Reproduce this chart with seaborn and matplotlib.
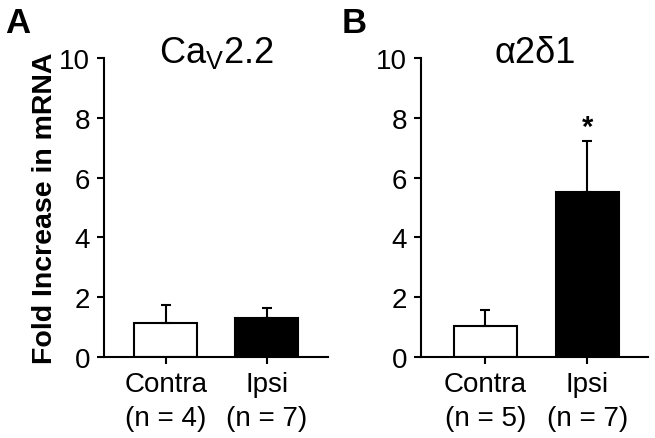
import matplotlib
matplotlib.use('Agg')
import matplotlib.pyplot as plt
import seaborn as sns
import pandas as pd
import numpy as np

# Datos (media y error superior)
grupos = ['Contra', 'Ipsi']
n_cav = [4, 7]
n_a2d = [5, 7]
media_cav = [1.14, 1.30]
error_cav = [0.60, 0.34]
media_a2d = [1.04, 5.52]
error_a2d = [0.53, 1.70]
yticks = [0, 2, 4, 6, 8, 10]

sns.set_style('ticks')
plt.rcParams['font.family'] = ['Liberation Sans', 'DejaVu Sans']
plt.rcParams['mathtext.fontset'] = 'custom'
plt.rcParams['mathtext.rm'] = 'Liberation Sans'
for k in ['text.color', 'axes.labelcolor', 'xtick.color', 'ytick.color', 'axes.edgecolor']:
    plt.rcParams[k] = 'black'

fig = plt.figure(figsize=(6.55, 4.39), dpi=100)
ax_a = fig.add_axes([0.159, 0.1845, 0.342, 0.681])
ax_b = fig.add_axes([0.643, 0.1845, 0.347, 0.681])

paneles = [
    (ax_a, media_cav, error_cav, n_cav, r'Ca$_{\rm V}$2.2', 'A', (-0.61, 1.61)),
    (ax_b, media_a2d, error_a2d, n_a2d, 'α2δ1', 'B', (-0.63, 1.6)),
]

for ax, media, error, n, titulo, letra, xlim in paneles:
    df = pd.DataFrame({'grupo': grupos, 'valor': media})
    sns.barplot(data=df, x='grupo', y='valor', hue='grupo', palette=['white', 'black'],
                edgecolor='black', linewidth=1.5, width=0.62, legend=False, ax=ax)
    pos = np.arange(len(grupos))
    ax.errorbar(pos, media, yerr=[np.zeros(len(media)), error], fmt='none',
                ecolor='black', elinewidth=1.5, capsize=3.5, capthick=1.5, zorder=1)
    ax.set_xlim(*xlim)
    ax.set_ylim(0, 10)
    ax.set_yticks(yticks)
    ax.set_xticks(pos)
    ax.set_xticklabels([f'{g}\n(n = {k})' for g, k in zip(grupos, n)], linespacing=1.4)
    ax.tick_params(axis='both', labelsize=20, width=1.5, length=5, pad=5)
    ax.set_xlabel('')
    ax.set_ylabel('')
    sns.despine(ax=ax)
    for s in ['left', 'bottom']:
        ax.spines[s].set_linewidth(1.5)
    ax.text(0.5, 0.987, titulo, transform=ax.transAxes, ha='center', va='baseline', fontsize=26)

ax_a.set_ylabel('Fold Increase in mRNA', fontsize=20.5, fontweight='bold', labelpad=1)

# asterisco de significancia
ax_b.text(1, media_a2d[1] + error_a2d[1] + 0.0, '*', ha='center', va='bottom',
          fontsize=21, fontweight='bold')

fig.text(0.008, 0.925, 'A', fontsize=25, fontweight='bold', va='baseline')
fig.text(0.521, 0.925, 'B', fontsize=25, fontweight='bold', va='baseline')

fig.savefig('out.png', dpi=100)
